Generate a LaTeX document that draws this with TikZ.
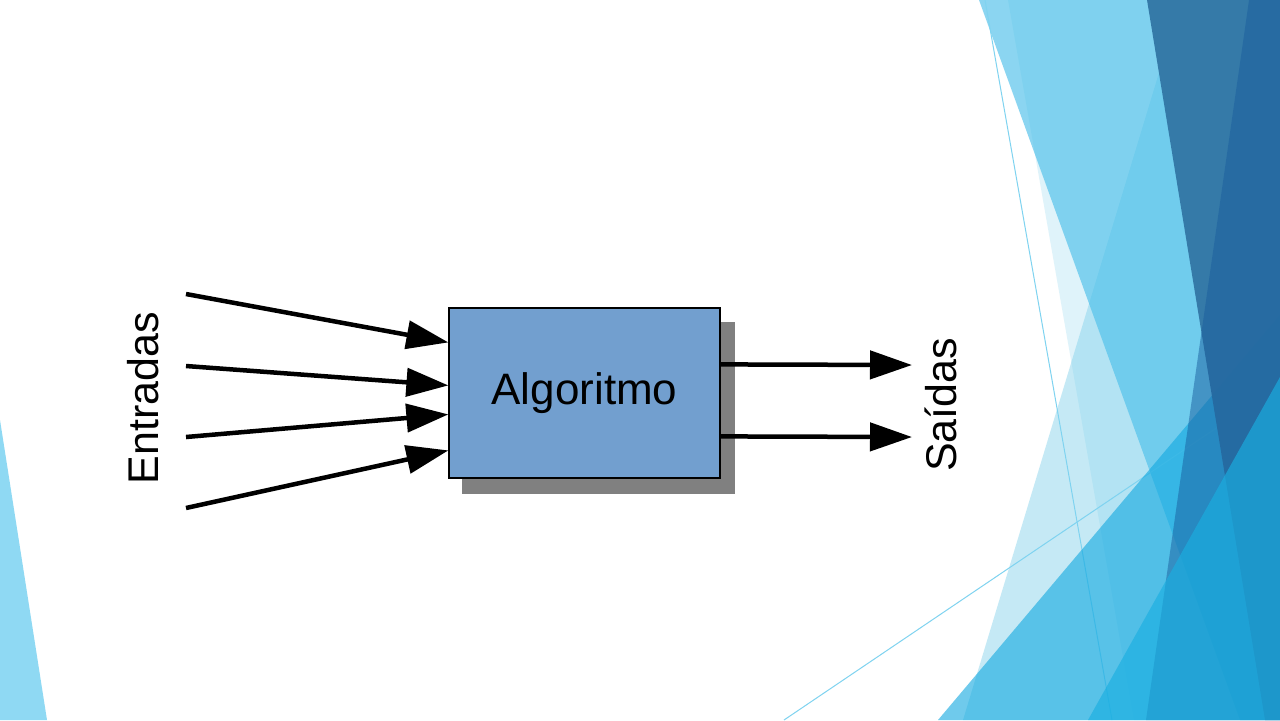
\documentclass[tikz,border=0pt]{standalone}
\usepackage{fontspec}
\setmainfont{Liberation Sans}
\usetikzlibrary{arrows.meta,calc}

\definecolor{facetaA}{HTML}{DFF3FA}
\definecolor{facetaB}{HTML}{4DC0EA}
\definecolor{facetaC}{HTML}{7FD0EB}
\definecolor{facetaT}{HTML}{10A8E0}
\definecolor{facetaD}{HTML}{3276A5}
\definecolor{facetaE}{HTML}{1A5E9E}
\definecolor{facetaF}{HTML}{1AAFE1}
\definecolor{facetaL}{HTML}{8FD9F3}
\definecolor{fioazul}{HTML}{7FD3F0}
\definecolor{caixaazul}{HTML}{729FCF}
\definecolor{sombracinza}{HTML}{808080}

\tikzset{every picture/.style={line width=0.75pt},
  seta/.style={line width=2.25pt,-{Triangle[length=21pt,width=14pt]}},
  caixa/.style={draw=black,fill=caixaazul,line width=0.6pt,minimum width=135.5pt,minimum height=85pt,inner sep=0pt,font=\fontsize{22}{26}\selectfont},
  sombra/.style={fill=sombracinza,minimum width=136.5pt,minimum height=86pt,inner sep=0pt},
  rotulo/.style={rotate=90,inner sep=0pt,font=\fontsize{21.5}{26}\selectfont},
  fio/.style={draw=fioazul,line width=0.5pt}
}

\begin{document}
\begin{tikzpicture}[x=0.5pt,y=0.5pt,yscale=-1,xscale=1]
\useasboundingbox (0,0) rectangle (1280,720);
\fill[white] (0,0) rectangle (1280,720);

%Shape: Polygon [left facet]
\fill[facetaL] (0,420) -- (47,720) -- (0,720) -- cycle;
%Shape: Polygon [right facets]
\fill[facetaA] (1008,0) -- (1134,720) -- (1280,720) -- (1280,0) -- cycle;
\fill[facetaC,opacity=0.45] (1181,0) -- (963,720) -- (1280,720) -- (1280,0) -- cycle;
\fill[facetaB,opacity=0.65] (979,0) -- (1280,0) -- (1280,720) -- (1240,720) -- cycle;
%Straight Lines [thin facets]
\draw[fio] (985,0) -- (1112,720);
\draw[fio] (1280,385) -- (784,720);
%Shape: Polygon [right facets]
\fill[facetaT,opacity=0.6] (1280,315) -- (938,720) -- (1280,720) -- cycle;
\fill[facetaD,opacity=0.95] (1147,0) -- (1280,0) -- (1280,720) -- (1265,720) -- cycle;
\fill[facetaE,opacity=0.5] (1249,0) -- (1280,0) -- (1280,720) -- (1146,720) -- cycle;
\fill[facetaF,opacity=0.65] (1280,377) -- (1088,720) -- (1280,720) -- cycle;

%Shape: Rectangle [shadow]
\node[sombra] (sombra) at (598.5,408) {};
%Shape: Rectangle
\node[caixa] (algo) at (584.5,393) {Algoritmo};

% Text Node
\node[rotulo] (entradas) at (143,398) {Entradas};
% Text Node
\node[rotulo] (saidas) at (941,405) {Saídas};

\coordinate (ent1) at (186,294);
\coordinate (ent2) at (186,366);
\coordinate (ent3) at (186,437);
\coordinate (ent4) at (186,508);
\coordinate (sai1) at (912,365);
\coordinate (sai2) at (912,437);

%Straight Lines [inputs]
\draw[seta] (ent1) -- ($(algo.north west)+(0,35)$);
\draw[seta] (ent2) -- ($(algo.north west)+(0,78)$);
\draw[seta] (ent3) -- ($(algo.north west)+(0,107)$);
\draw[seta] (ent4) -- ($(algo.north west)+(0,143)$);
%Straight Lines [outputs]
\draw[seta] ($(algo.north east)+(0,57)$) -- (sai1);
\draw[seta] ($(algo.north east)+(0,129)$) -- (sai2);

\end{tikzpicture}
\end{document}
